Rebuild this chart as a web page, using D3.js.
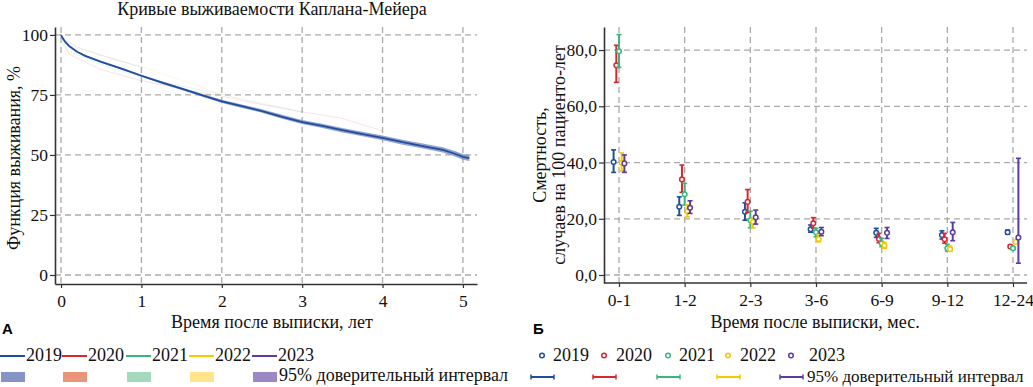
<!DOCTYPE html>
<html>
<head>
<meta charset="utf-8">
<script src="https://cdn.jsdelivr.net/npm/d3@7"></script>
<style>
  body { margin: 0; background: #fff; }
  svg { display: block; }
</style>
</head>
<body>
<svg id="chart" width="1033" height="387"></svg>
<script>
// ---- data ----
const years = ["2019", "2020", "2021", "2022", "2023"];
const colors = ["#1d4f9d", "#d8272e", "#3cb47f", "#f5c800", "#5c3c9e"];
const bandColors = ["#8593c6", "#e8957a", "#a5d9bd", "#ffe48c", "#9b88c4"];

// Kaplan-Meier, 2019 (main curve)
const kmTime2019 = [0, 0.02, 0.05, 0.1, 0.2, 0.3, 0.5, 0.75, 1.0, 1.25, 1.5, 1.75, 2.0, 2.25, 2.5, 2.75, 3.0, 3.25, 3.5, 3.75, 4.0, 4.25, 4.5, 4.75, 4.9, 5.0, 5.08];
const kmSurv2019 = [100, 98.7, 97.2, 95.4, 93, 91.3, 88.8, 86, 83, 80.2, 77.6, 74.9, 72.3, 70.3, 68.3, 65.9, 63.7, 62.1, 60.3, 58.7, 57.1, 55.3, 53.7, 52.1, 50.5, 49.2, 48.7];
const kmCi2019 = [0, 0.1, 0.15, 0.2, 0.25, 0.3, 0.35, 0.4, 0.45, 0.5, 0.55, 0.6, 0.65, 0.7, 0.75, 0.8, 0.85, 0.9, 0.9, 0.95, 1.0, 1.0, 1.05, 1.1, 1.15, 1.2, 1.25];

// other cohorts (drawn very faint in the original)
const kmTime2020 = [0, 0.1, 0.5, 1.0, 1.5, 2.0, 2.5, 3.0, 3.5, 4.0];
const kmSurv2020 = [100, 92, 85.5, 81, 77.5, 74.5, 71, 68, 65.2, 60];
const kmTime2021 = [0, 0.02, 0.05, 0.1, 0.3, 0.6, 1.0, 1.5, 2.0, 2.5, 3.0];
const kmSurv2021 = [100, 97, 94.5, 93, 90.5, 86.5, 82.3, 78.8, 75.2, 71.5, 67.8];
const kmTime2022 = [0, 0.05, 0.2, 0.5, 1.0, 1.5, 2.0];
const kmSurv2022 = [100, 97.5, 94.5, 91.5, 86.8, 81.2, 75];
const kmTime2023 = [0, 0.05, 0.2, 0.5, 0.8, 1.0];
const kmSurv2023 = [100, 98, 95, 91.5, 88.5, 86.5];

// mortality per 100 patient-years by period
const periods = ["0-1", "1-2", "2-3", "3-6", "6-9", "9-12", "12-24"];
const rate2019 = [40.2, 24.3, 22.5, 16.3, 15.0, 14.2, 15.2];
const low2019  = [36.5, 21.2, 19.5, 15.2, 13.4, 12.8, 14.5];
const high2019 = [44.5, 27.8, 25.7, 17.8, 16.6, 15.7, 16.0];
const rate2020 = [74.6, 34.0, 26.0, 18.4, 12.8, 12.7, 10.1];
const low2020  = [68.5, 29.4, 22.3, 16.6, 11.5, 11.3, 9.6];
const high2020 = [81.7, 39.1, 30.4, 20.4, 14.8, 14.8, 10.6];
const rate2021 = [79.6, 28.7, 19.5, 15.2, 11.3, 9.5, 9.5];
const low2021  = [73.8, 24.9, 16.8, 13.6, 10.1, 8.5, 9.0];
const high2021 = [85.5, 32.6, 22.7, 16.6, 13.0, 10.9, 10.0];
const rate2022 = [39.9, 22.7, 18.9, 12.8, 10.5, 9.2, 11.8];
const low2022  = [37.0, 20.7, 16.8, 11.8, 9.5, 8.5, 11.3];
const high2022 = [43.4, 24.9, 20.1, 14.2, 11.6, 10.3, 12.3];
const rate2023 = [39.7, 23.9, 20.5, 15.4, 15.0, 15.2, 13.3];
const low2023  = [36.5, 21.9, 18.1, 14.0, 13.0, 12.2, 4.2];
const high2023 = [42.7, 26.4, 23.1, 16.9, 16.9, 18.7, 41.5];

const kmSeries = [
  { year: "2020", t: kmTime2020, s: kmSurv2020 },
  { year: "2021", t: kmTime2021, s: kmSurv2021 },
  { year: "2022", t: kmTime2022, s: kmSurv2022 },
  { year: "2023", t: kmTime2023, s: kmSurv2023 },
];
const rateTable = [
  [rate2019, low2019, high2019], [rate2020, low2020, high2020], [rate2021, low2021, high2021],
  [rate2022, low2022, high2022], [rate2023, low2023, high2023]
];

const svg = d3.select("#chart");
const colorOf = d3.scaleOrdinal(years, colors);
const bandOf = d3.scaleOrdinal(years, bandColors);
const gridCol = "#aaa";
const SERIF = '"Liberation Serif", "Times New Roman", serif';
const SANS = '"Liberation Sans", Arial, sans-serif';
const FS = "18px";

// every text element gets its font inline
function txt(sel, size = FS) {
  return sel.style("font-family", SERIF).style("font-size", size).attr("fill", "#111");
}

function styleAxis(g) {
  g.attr("font-family", null).attr("font-size", null);
  txt(g.selectAll("text"), "17.5px");
  g.select(".domain").attr("stroke", "#333").attr("stroke-width", 1.6);
  g.selectAll(".tick line").attr("stroke", "#333").attr("stroke-width", 1.2);
}

// ================= Panel A =================
const xA = d3.scaleLinear().domain([-0.075, 5.175]).range([55, 477]);
const yA = d3.scaleLinear().domain([-3.75, 103.3]).range([284, 27]);
const gA = svg.append("g");

// grid
gA.append("g").selectAll("line").data(d3.range(0, 6)).join("line")
  .attr("x1", d => xA(d)).attr("x2", d => xA(d)).attr("y1", 27).attr("y2", 284)
  .attr("stroke", gridCol).attr("stroke-width", 1.3).attr("stroke-dasharray", "6,4");
gA.append("g").selectAll("line").data([0, 25, 50, 75, 100]).join("line")
  .attr("x1", 55).attr("x2", 477).attr("y1", d => yA(d)).attr("y2", d => yA(d))
  .attr("stroke", gridCol).attr("stroke-width", 1.3).attr("stroke-dasharray", "6,4");

// faint curves
const lineA = d3.line().x(d => xA(d[0])).y(d => yA(d[1]));
kmSeries.forEach(k => {
  gA.append("path").datum(d3.zip(k.t, k.s)).attr("d", lineA)
    .attr("fill", "none").attr("stroke", colorOf(k.year)).attr("stroke-width", 1).attr("opacity", 0.13);
});

// 2019 band and line
const km2019 = kmTime2019.map((t, i) => ({ t, s: kmSurv2019[i], c: kmCi2019[i] }));
gA.append("path").datum(km2019)
  .attr("d", d3.area().x(d => xA(d.t)).y0(d => yA(d.s - d.c)).y1(d => yA(d.s + d.c)))
  .attr("fill", bandOf("2019")).attr("opacity", 0.85);
gA.append("path").datum(km2019)
  .attr("d", d3.line().x(d => xA(d.t)).y(d => yA(d.s)))
  .attr("fill", "none").attr("stroke", colorOf("2019")).attr("stroke-width", 1.8);

gA.append("g").attr("transform", "translate(55,0)")
  .call(d3.axisLeft(yA).tickValues([0, 25, 50, 75, 100]).tickSize(5).tickSizeOuter(0).tickPadding(2))
  .call(styleAxis);
gA.append("g").attr("transform", "translate(0,284)")
  .call(d3.axisBottom(xA).tickValues(d3.range(0, 6)).tickFormat(d3.format("d")).tickSize(4).tickSizeOuter(0).tickPadding(7))
  .call(styleAxis);

txt(gA.append("text").attr("x", 272).attr("y", 15).attr("text-anchor", "middle"))
  .text("Кривые выживаемости Каплана-Мейера");
txt(gA.append("text").attr("x", 272).attr("y", 328).attr("text-anchor", "middle"))
  .text("Время после выписки, лет");
txt(gA.append("text").attr("transform", "translate(20,158) rotate(-90)").attr("text-anchor", "middle"))
  .text("Функция выживания, %");
gA.append("text").attr("x", 2).attr("y", 334)
  .style("font-family", SANS).style("font-weight", "bold").style("font-size", "15px").text("А");

// ================= Panel B =================
const xB = d3.scalePoint().domain(periods).range([619, 1013]);
const yB = d3.scaleLinear().domain([-2.84, 88.2]).range([283, 27]);
const dodge = d3.scalePoint().domain(years).range([-5.4, 5.4]);
const gB = svg.append("g");

gB.append("g").selectAll("line").data(periods).join("line")
  .attr("x1", d => xB(d)).attr("x2", d => xB(d)).attr("y1", 27).attr("y2", 283)
  .attr("stroke", gridCol).attr("stroke-width", 1.3).attr("stroke-dasharray", "6,4");
gB.append("g").selectAll("line").data([0, 20, 40, 60, 80]).join("line")
  .attr("x1", 604).attr("x2", 1027).attr("y1", d => yB(d)).attr("y2", d => yB(d))
  .attr("stroke", gridCol).attr("stroke-width", 1.3).attr("stroke-dasharray", "6,4");

const pts = [];
years.forEach((yr, j) => {
  const [r, lo, hi] = rateTable[j];
  periods.forEach((p, i) => pts.push({ yr, p, v: r[i], lo: lo[i], hi: hi[i] }));
});
const eb = gB.append("g").selectAll("g").data(pts).join("g")
  .attr("transform", d => `translate(${xB(d.p) + dodge(d.yr)},0)`)
  .attr("stroke", d => colorOf(d.yr));
eb.append("line").attr("y1", d => yB(d.lo)).attr("y2", d => yB(d.hi)).attr("stroke-width", 2);
eb.append("line").attr("x1", -2.5).attr("x2", 2.5).attr("y1", d => yB(d.lo)).attr("y2", d => yB(d.lo)).attr("stroke-width", 1.6);
eb.append("line").attr("x1", -2.5).attr("x2", 2.5).attr("y1", d => yB(d.hi)).attr("y2", d => yB(d.hi)).attr("stroke-width", 1.6);
eb.append("circle").attr("cy", d => yB(d.v)).attr("r", 2.3).attr("fill", "#fff").attr("stroke-width", 1.5);

const fmt = d => d3.format(".1f")(d).replace(".", ",");
gB.append("g").attr("transform", "translate(604,0)")
  .call(d3.axisLeft(yB).tickValues([0, 20, 40, 60, 80]).tickFormat(fmt).tickSize(5).tickSizeOuter(0).tickPadding(2))
  .call(styleAxis);
gB.append("g").attr("transform", "translate(0,283)")
  .call(d3.axisBottom(xB).tickSize(4).tickSizeOuter(0).tickPadding(7))
  .call(g => g.select(".domain").attr("d", "M604,0H1027"))
  .call(styleAxis);

txt(gB.append("text").attr("x", 815).attr("y", 328).attr("text-anchor", "middle"))
  .text("Время после выписки, мес.");
txt(gB.append("text").attr("transform", "translate(546,155) rotate(-90)").attr("text-anchor", "middle"))
  .text("Смертность,");
txt(gB.append("text").attr("transform", "translate(565,155) rotate(-90)").attr("text-anchor", "middle"))
  .text("случаев на 100 пациенто-лет");
gB.append("text").attr("x", 533).attr("y", 334)
  .style("font-family", SANS).style("font-weight", "bold").style("font-size", "15px").text("Б");

// ================= Legends =================
const legA = [1, 63, 127, 190, 253];
years.forEach((yr, i) => {
  const x = legA[i];
  svg.append("line").attr("x1", x - 1).attr("x2", x + 24).attr("y1", 356).attr("y2", 356)
    .attr("stroke", colorOf(yr)).attr("stroke-width", 2);
  txt(svg.append("text").attr("x", x + 25).attr("y", 361)).text(yr);
  svg.append("rect").attr("x", x).attr("y", 372).attr("width", 24).attr("height", 10)
    .attr("fill", bandOf(yr));
});
txt(svg.append("text").attr("x", 279).attr("y", 381)).text("95% доверительный интервал");

const legB = [531, 593, 657, 717, 780];
const legBtext = [553, 616, 679, 740, 809];
years.forEach((yr, i) => {
  const x = legB[i];
  svg.append("circle").attr("cx", x + 11).attr("cy", 355.5).attr("r", 2.3)
    .attr("fill", "#fff").attr("stroke", colorOf(yr)).attr("stroke-width", 1.5);
  txt(svg.append("text").attr("x", legBtext[i]).attr("y", 361)).text(yr);
  const g = svg.append("g").attr("stroke", colorOf(yr));
  g.append("line").attr("x1", x).attr("x2", x + 23).attr("y1", 377).attr("y2", 377).attr("stroke-width", 2);
  g.append("line").attr("x1", x).attr("x2", x).attr("y1", 374.5).attr("y2", 379.5).attr("stroke-width", 1.5);
  g.append("line").attr("x1", x + 23).attr("x2", x + 23).attr("y1", 374.5).attr("y2", 379.5).attr("stroke-width", 1.5);
});
txt(svg.append("text").attr("x", 807).attr("y", 382), "17px").text("95% доверительный интервал");
</script>
</body>
</html>
